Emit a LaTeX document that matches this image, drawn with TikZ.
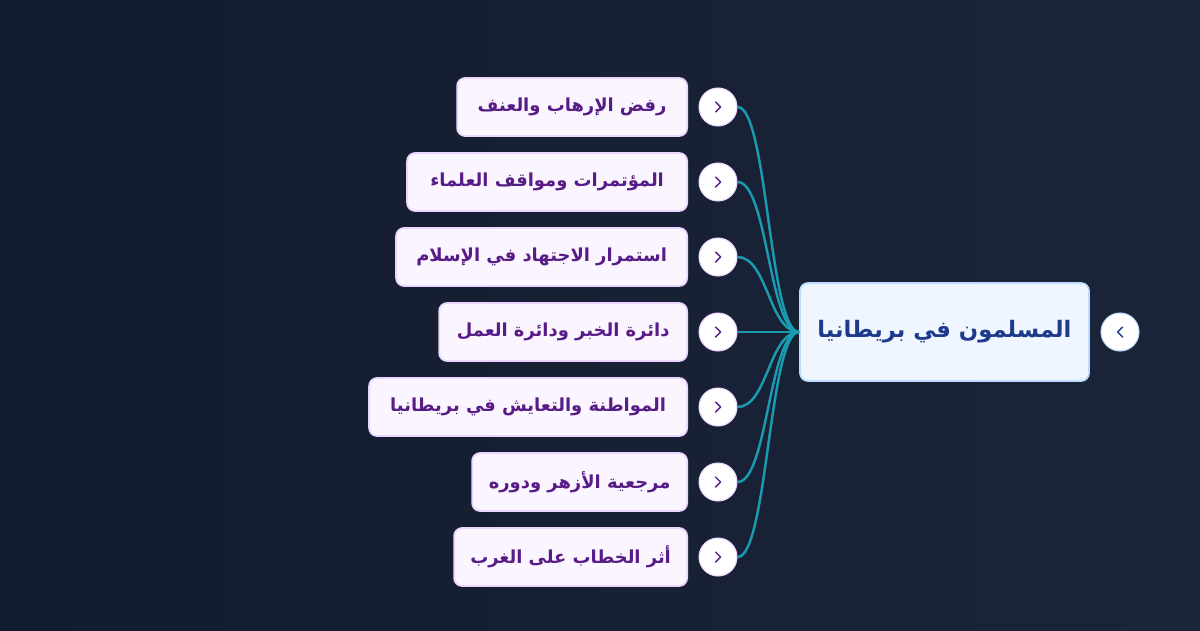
\documentclass[tikz,border=0pt]{standalone}
\usepackage{fontspec}
\newfontfamily\arabicfont[Script=Arabic]{DejaVu Sans}
\TeXXeTstate=1
\usetikzlibrary{positioning}

\definecolor{bgdark}{HTML}{131B2E}
\definecolor{bglight}{HTML}{1B2539}
\definecolor{rootfill}{HTML}{EFF6FF}
\definecolor{rootline}{HTML}{BFDBFE}
\definecolor{roottext}{HTML}{1E3A8A}
\definecolor{leaffill}{HTML}{FAF5FF}
\definecolor{leafline}{HTML}{E9D5FF}
\definecolor{leaftext}{HTML}{581C87}
\definecolor{linkcol}{HTML}{1A9BB0}

\tikzset{
    rootbox/.style={draw=rootline, fill=rootfill, line width=1pt, rounded corners=0.16cm,
        minimum width=5.78cm, minimum height=1.96cm, text=roottext,
        font=\arabicfont\bfseries\fontsize{12.9}{16}\selectfont},
    leafbox/.style={draw=leafline, fill=leaffill, line width=1pt, rounded corners=0.16cm,
        minimum height=1.16cm, text=leaftext, anchor=east,
        font=\arabicfont\bfseries\fontsize{10.2}{12}\selectfont},
    togglebtn/.style={circle, fill=white, draw=#1, line width=0.6pt, minimum size=0.76cm, inner sep=0pt},
    chevron/.style={draw=#1, line width=0.8pt, line cap=round, line join=round},
    link/.style={draw=linkcol, line width=1.4pt}
}

\begin{document}
\begin{tikzpicture}
    % background
    \shade[left color=bgdark, right color=bglight] (0,0) rectangle (24,12.6);
    \useasboundingbox (0,0) rectangle (24,12.6);

    % root
    \node[rootbox] (root) at (18.89,5.96) {\beginR المسلمون في بريطانيا\endR};
    \node[togglebtn=rootline] (rootbtn) at (22.4,5.96) {};
    \draw[chevron=roottext] ([xshift=0.05cm,yshift=0.1cm]rootbtn.center) -- ([xshift=-0.05cm]rootbtn.center) -- ([xshift=0.05cm,yshift=-0.1cm]rootbtn.center);

    % branches
    \foreach \i/\w/\t in {
        1/4.6/{رفض الإرهاب والعنف},
        2/5.6/{المؤتمرات ومواقف العلماء},
        3/5.82/{استمرار الاجتهاد في الإسلام},
        4/4.96/{دائرة الخبر ودائرة العمل},
        5/6.36/{المواطنة والتعايش في بريطانيا},
        6/4.3/{مرجعية الأزهر ودوره},
        7/4.66/{أثر الخطاب على الغرب}}
    {
        \node[leafbox, minimum width=\w cm] (c\i) at (13.76,{10.46-(\i-1)*1.5}) {\beginR\t\endR};
        \node[togglebtn=leafline] (b\i) at (14.36,{10.46-(\i-1)*1.5}) {};
        \draw[chevron=leaftext] ([xshift=-0.05cm,yshift=0.1cm]b\i.center) -- ([xshift=0.05cm]b\i.center) -- ([xshift=-0.05cm,yshift=-0.1cm]b\i.center);
        \draw[link] (b\i.east) .. controls +(0.6,0) and +(-0.6,0) .. (root.west);
    }
\end{tikzpicture}
\end{document}
